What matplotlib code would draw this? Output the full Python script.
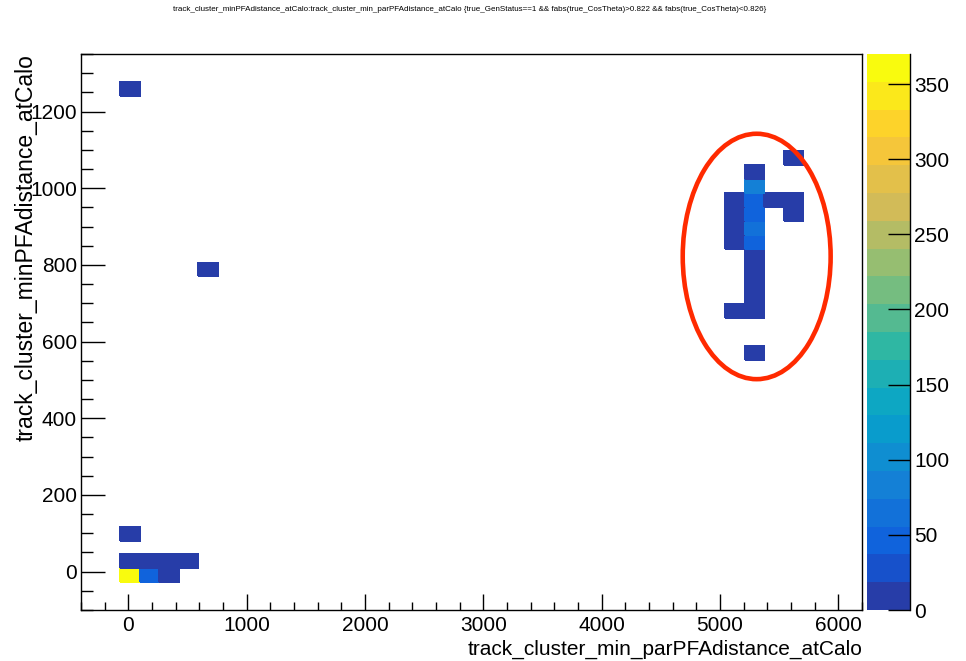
import numpy as np
import matplotlib
matplotlib.use('Agg')
import matplotlib.pyplot as plt
from matplotlib.colors import LinearSegmentedColormap, ListedColormap, BoundaryNorm
from matplotlib.patches import Ellipse
from matplotlib.ticker import MultipleLocator

plt.rcParams['font.family'] = ['Liberation Sans', 'DejaVu Sans']

TITLE = ('track_cluster_minPFAdistance_atCalo:track_cluster_min_parPFAdistance_atCalo '
         '{true_GenStatus==1 && fabs(true_CosTheta)>0.822 && fabs(true_CosTheta)<0.826}')
X_LABEL = 'track_cluster_min_parPFAdistance_atCalo'
Y_LABEL = 'track_cluster_minPFAdistance_atCalo'

# binning of the TH2 (40 x 40)
NX, X_MIN, X_MAX = 40, -400, 6200
NY, Y_MIN, Y_MAX = 40, -100, 1350
Z_MAX = 370
N_CONT = 20

# filled bins: x, y (bin centres) and entries
cell_x = [10, 180, 340,
          10, 180, 340, 510,
          10, 10, 670,
          5290, 5290, 5290, 5290, 5290, 5290, 5290, 5290, 5290, 5290, 5290, 5290,
          5130, 5130, 5130, 5130, 5130,
          5460,
          5620, 5620, 5620]
cell_y = [-10, -10, -10,
          27, 27, 27, 27,
          100, 1260, 788,
          570, 680, 716, 752, 788, 824, 860, 897, 933, 969, 1006, 1042,
          680, 860, 897, 933, 969,
          969,
          933, 969, 1078]
cell_n = [365, 45, 10,
          8, 6, 4, 3,
          2, 1, 1,
          2, 5, 4, 3, 5, 8, 42, 62, 45, 48, 82, 6,
          2, 3, 4, 3, 2,
          3,
          2, 4, 1]

# ROOT kBird palette
stops = [0.0, 0.125, 0.25, 0.375, 0.5, 0.625, 0.75, 0.875, 1.0]
red = [0.2082, 0.0592, 0.0780, 0.0232, 0.1802, 0.5301, 0.8186, 0.9956, 0.9764]
green = [0.1664, 0.3599, 0.5041, 0.6419, 0.7178, 0.7492, 0.7328, 0.7862, 0.9832]
blue = [0.5293, 0.8684, 0.8385, 0.7914, 0.6425, 0.4662, 0.3499, 0.1968, 0.0539]
bird = LinearSegmentedColormap.from_list('bird', list(zip(stops, zip(red, green, blue))))
# same colour picking as THistPainter for 20 contours on 255 colours
cols = [bird(int((k + 0.99) * 255 / N_CONT) / 254) for k in range(N_CONT)]
cmap = ListedColormap(cols)
levels = np.linspace(0, Z_MAX, N_CONT + 1)
norm = BoundaryNorm(levels, N_CONT)

xedges = np.linspace(X_MIN, X_MAX, NX + 1)
yedges = np.linspace(Y_MIN, Y_MAX, NY + 1)
H, _, _ = np.histogram2d(cell_x, cell_y, bins=[xedges, yedges], weights=cell_n)
H = np.ma.masked_equal(H.T, 0)

fig = plt.figure(figsize=(9.66, 6.61), dpi=100)
ax = fig.add_axes([81 / 966, 51 / 661, 781 / 966, 556 / 661])
cax = fig.add_axes([867 / 966, 51 / 661, 43 / 966, 556 / 661])

mesh = ax.pcolormesh(xedges, yedges, H, cmap=cmap, norm=norm, edgecolor='face', linewidth=0.2)
ax.set_xlim(X_MIN, X_MAX)
ax.set_ylim(Y_MIN, Y_MAX)

# hand drawn ring around the cluster
ax.add_patch(Ellipse((5310, 822), width=1250, height=640, fill=False,
                     ec='#ff2a00', lw=3.3, zorder=5))

ax.xaxis.set_major_locator(MultipleLocator(1000))
ax.xaxis.set_minor_locator(MultipleLocator(200))
ax.yaxis.set_major_locator(MultipleLocator(200))
ax.yaxis.set_minor_locator(MultipleLocator(50))
ax.tick_params(axis='both', which='both', direction='in', top=False, right=False,
               labelsize=15, width=1)
ax.tick_params(axis='x', which='major', length=11.5, pad=4)
ax.tick_params(axis='x', which='minor', length=5.8)
ax.tick_params(axis='y', which='major', length=17, pad=3)
ax.tick_params(axis='y', which='minor', length=8.5)
for s in ax.spines.values():
    s.set_linewidth(1)

ax.set_xlabel(X_LABEL, loc='right', fontsize=15, labelpad=4)
ax.set_ylabel(Y_LABEL, fontsize=16.5, ha='right', va='top')
ax.yaxis.set_label_coords(-0.0845, 1.0)

cbar = fig.colorbar(mesh, cax=cax)
cbar.outline.set_visible(False)
cax.plot([1, 1], [0, 1], transform=cax.transAxes, color='k', lw=1, clip_on=False)
cbar.set_ticks(np.arange(0, 351, 50))
cax.tick_params(direction='in', length=16, width=1, labelsize=15, pad=3)
cax.minorticks_off()

fig.text(0.4866, 0.985, TITLE, ha='center', va='center', fontsize=5.8)

plt.savefig('out.png', dpi=100)
